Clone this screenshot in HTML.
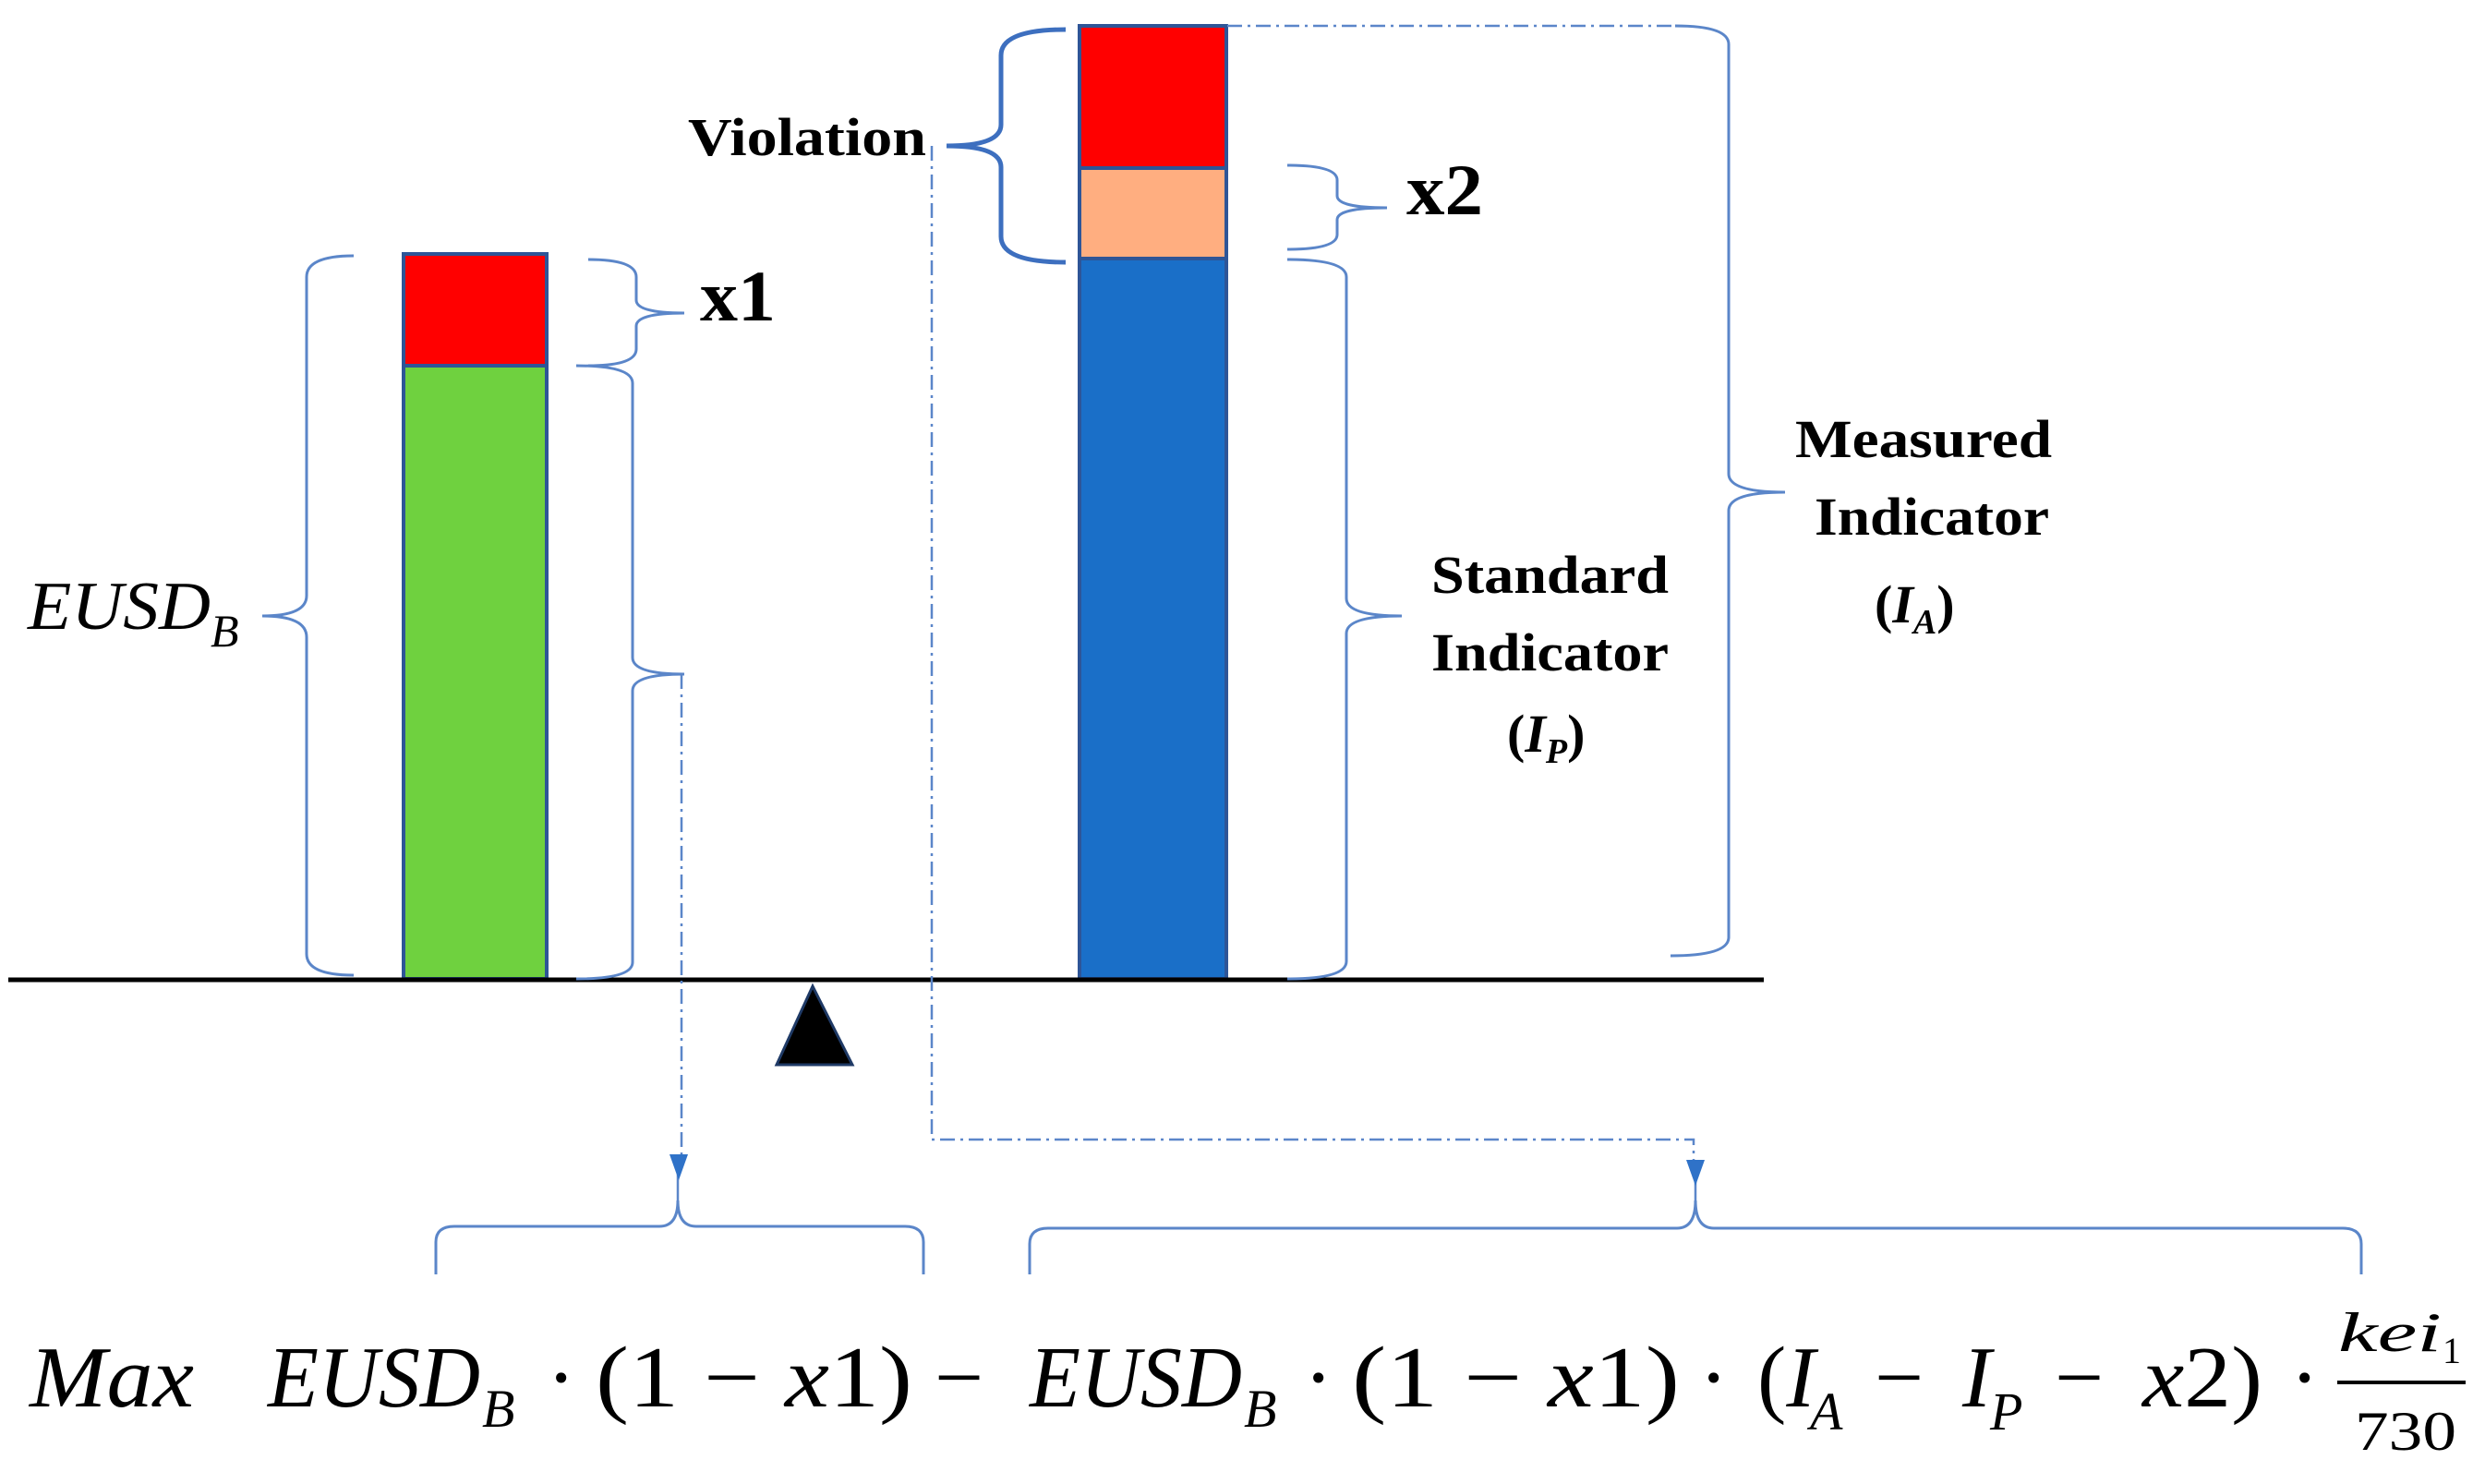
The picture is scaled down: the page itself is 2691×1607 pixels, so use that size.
<!DOCTYPE html>
<html><head><meta charset="utf-8"><style>html,body{margin:0;padding:0;background:#fff}svg{display:block}</style></head>
<body>
<svg width="2691" height="1607" viewBox="0 0 2691 1607" xmlns="http://www.w3.org/2000/svg">
<rect width="2691" height="1607" fill="#fff"/>
<rect x="437" y="396" width="155" height="664" fill="#6fd13f" stroke="#2e5597" stroke-width="4"/>
<rect x="437" y="275" width="155" height="121" fill="#ff0000" stroke="#2e5597" stroke-width="4"/>
<rect x="1169" y="280" width="159" height="780" fill="#1a6fc8" stroke="#2e5597" stroke-width="4"/>
<rect x="1169" y="182" width="159" height="98" fill="#ffae80" stroke="#2e5597" stroke-width="4"/>
<rect x="1169" y="28" width="159" height="154" fill="#ff0000" stroke="#2e5597" stroke-width="4"/>
<line x1="9" y1="1061" x2="1910" y2="1061" stroke="#000" stroke-width="5"/>
<polygon points="880,1068 841,1153 923,1153" fill="#000" stroke="#1f3a66" stroke-width="3"/>
<g fill="none" stroke="#5b86c9" stroke-width="3">
<path d="M383,277 Q332,277 332,300 L332,645 Q332,667 284,667 Q332,667 332,690 L332,1033 Q332,1056 383,1056"/>
<path d="M637,281 Q689,281 689,300 L689,325 Q689,339 741,339 Q689,339 689,353 L689,378 Q689,396 637,396"/>
<path d="M624,396 Q685,396 685,415 L685,712 Q685,730 741,730 Q685,730 685,748 L685,1042 Q685,1060 624,1060"/>
<path d="M1394,179 Q1448,179 1448,195 L1448,212 Q1448,225 1502,225 Q1448,225 1448,238 L1448,254 Q1448,270 1394,270"/>
<path d="M1394,281 Q1458,281 1458,300 L1458,648 Q1458,667 1518,667 Q1458,667 1458,686 L1458,1041 Q1458,1060 1394,1060"/>
<path d="M1814,28 Q1872,28 1872,48 L1872,513 Q1872,533 1933,533 Q1872,533 1872,553 L1872,1015 Q1872,1035 1809,1035"/>
<path d="M472,1380 L472,1345 Q472,1328 492,1328 L714,1328 Q734,1328 734,1300 Q734,1328 754,1328 L980,1328 Q1000,1328 1000,1345 L1000,1380"/>
<path d="M1115,1380 L1115,1347 Q1115,1330 1135,1330 L1816,1330 Q1836,1330 1836,1300 Q1836,1330 1856,1330 L2537,1330 Q2557,1330 2557,1347 L2557,1380"/>
</g>
<path d="M1154,32 Q1084,32 1084,60 L1084,135 Q1084,158 1025,158 Q1084,158 1084,181 L1084,256 Q1084,284 1154,284" fill="none" stroke="#3d6fbf" stroke-width="5"/>
<g fill="none" stroke="#5b86c9" stroke-width="2.5" stroke-dasharray="16 6 3 6">
<line x1="1329" y1="28" x2="1814" y2="28"/>
<path d="M738,730 L738,1255"/>
<path d="M1009,158 L1009,1234 L1834,1234 L1834,1258"/>
</g>
<line x1="734" y1="1270" x2="734" y2="1300" stroke="#5b86c9" stroke-width="2.5"/>
<line x1="1836" y1="1270" x2="1836" y2="1300" stroke="#5b86c9" stroke-width="2.5"/>
<polygon points="725,1250 745,1250 735,1278" fill="#2f72c8"/>
<polygon points="1826,1256 1846,1256 1836,1284" fill="#2f72c8"/>
<g font-family="'Liberation Serif', serif" fill="#000">
<text x="30" y="681" font-size="74" font-style="italic" textLength="198" lengthAdjust="spacingAndGlyphs">EUSD</text>
<text x="228" y="700" font-size="50" font-style="italic">B</text>
<text x="758" y="347" font-size="78" font-weight="bold" textLength="82" lengthAdjust="spacingAndGlyphs">x1</text>
<text x="1523" y="232" font-size="78" font-weight="bold" textLength="83" lengthAdjust="spacingAndGlyphs">x2</text>
<text x="745" y="168" font-size="58" font-weight="bold" textLength="258" lengthAdjust="spacingAndGlyphs">Violation</text>
<text x="1550" y="642" font-size="58" font-weight="bold" textLength="257" lengthAdjust="spacingAndGlyphs">Standard</text>
<text x="1550" y="726" font-size="58" font-weight="bold" textLength="257" lengthAdjust="spacingAndGlyphs">Indicator</text>
<text x="1632" y="814" font-size="58" font-weight="bold">(<tspan font-style="italic">I</tspan><tspan font-style="italic" font-size="38" dy="12">P</tspan><tspan dy="-12">)</tspan></text>
<text x="1944" y="495" font-size="58" font-weight="bold" textLength="278" lengthAdjust="spacingAndGlyphs">Measured</text>
<text x="1965" y="579" font-size="58" font-weight="bold" textLength="254" lengthAdjust="spacingAndGlyphs">Indicator</text>
<text x="2030" y="674" font-size="58" font-weight="bold">(<tspan font-style="italic">I</tspan><tspan font-style="italic" font-size="38" dy="12">A</tspan><tspan dy="-12">)</tspan></text>
</g>
<g font-family="'Liberation Serif', serif" fill="#000" font-size="94">
<text x="32" y="1523" font-style="italic" textLength="178" lengthAdjust="spacingAndGlyphs">Max</text>
<text x="290" y="1523" font-style="italic" textLength="230" lengthAdjust="spacingAndGlyphs">EUSD</text>
<text x="522" y="1545" font-style="italic" font-size="58">B</text>
<text x="592" y="1523">·</text>
<text x="645" y="1523" textLength="343" lengthAdjust="spacingAndGlyphs">(1 − <tspan font-style="italic">x</tspan>1)</text>
<text x="1012" y="1523">−</text>
<text x="1115" y="1523" font-style="italic" textLength="230" lengthAdjust="spacingAndGlyphs">EUSD</text>
<text x="1347" y="1545" font-style="italic" font-size="58">B</text>
<text x="1412" y="1523">·</text>
<text x="1464" y="1523" textLength="355" lengthAdjust="spacingAndGlyphs">(1 − <tspan font-style="italic">x</tspan>1)</text>
<text x="1840" y="1523">·</text>
<text x="1903" y="1523">(<tspan font-style="italic">I</tspan></text>
<text x="1960" y="1548" font-style="italic" font-size="58">A</text>
<text x="2030" y="1523">−</text>
<text x="2125" y="1523" font-style="italic">I</text>
<text x="2155" y="1548" font-style="italic" font-size="58">P</text>
<text x="2225" y="1523">−</text>
<text x="2320" y="1523" textLength="130" lengthAdjust="spacingAndGlyphs"><tspan font-style="italic">x</tspan>2)</text>
<text x="2480" y="1523">·</text>
<text x="2532" y="1463" font-size="60" font-style="italic" textLength="112" lengthAdjust="spacingAndGlyphs">kei</text>
<text x="2645" y="1476" font-size="40">1</text>
<line x1="2531" y1="1497" x2="2670" y2="1497" stroke="#000" stroke-width="4"/>
<text x="2550" y="1570" font-size="60" textLength="110" lengthAdjust="spacingAndGlyphs">730</text>
</g>
</svg>
</body></html>
